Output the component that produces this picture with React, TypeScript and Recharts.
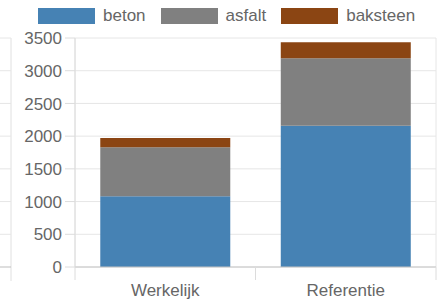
import { BarChart, Bar, XAxis, YAxis, CartesianGrid, Legend } from 'recharts'

const categories = ['Werkelijk', 'Referentie']
const beton = [1080, 2160]
const asfalt = [750, 1030]
const baksteen = [140, 245]
const yTicks = [0, 500, 1000, 1500, 2000, 2500, 3000, 3500]
const gridTicks = [0, 1, 2]

const series = [
  { key: 'beton', color: '#4682b4' },
  { key: 'asfalt', color: '#808080' },
  { key: 'baksteen', color: '#8b4513' },
]

const data = categories.map((name, i) => ({
  name,
  beton: beton[i],
  asfalt: asfalt[i],
  baksteen: baksteen[i],
}))

const font = '"Liberation Sans", Arial, Helvetica, sans-serif'
const textColor = '#666'

function YTick(props: any) {
  const { x, y, payload } = props
  return (
    <g>
      <line x1={0} x2={11} y1={y} y2={y} stroke={payload.value === 0 ? '#bdbdbd' : '#e6e6e6'} />
      <text x={x} y={y} dy="0.36em" textAnchor="end" fill={textColor} fontSize={17} fontFamily={font}>
        {payload.value}
      </text>
    </g>
  )
}

function XTick(props: any) {
  const { x, y, payload, index } = props
  const half = payload.offset || 90
  return (
    <g>
      <line x1={x - half} x2={x - half} y1={y} y2={y + 13} stroke="#dcdcdc" />
      {index === categories.length - 1 && (
        <line x1={x + half} x2={x + half} y1={y} y2={y + 13} stroke="#dcdcdc" />
      )}
      <text x={x} y={y + 29} textAnchor="middle" fill={textColor} fontSize={17} fontFamily={font}>
        {payload.value}
      </text>
    </g>
  )
}

function LegendContent() {
  return (
    <div style={{ height: 38, whiteSpace: 'nowrap', paddingTop: 8, boxSizing: 'border-box' }}>
      {series.map((s, i) => (
        <span
          key={s.key}
          style={{ display: 'inline-block', height: 16, marginRight: i < series.length - 1 ? 15 : 0, verticalAlign: 'top' }}
        >
          <span style={{ display: 'inline-block', width: 57, height: 16, background: s.color, marginRight: 8, verticalAlign: 'top' }} />
          <span style={{ display: 'inline-block', fontSize: 17, lineHeight: '16px', color: textColor, fontFamily: font, verticalAlign: 'top' }}>
            {s.key}
          </span>
        </span>
      ))}
    </div>
  )
}

export default function App() {
  return (
    <div style={{ position: 'absolute', left: 0, top: 0, width: 437, height: 303, background: '#fff' }}>
      <BarChart
        width={437}
        height={303}
        data={data}
        margin={{ top: 0, right: 1, bottom: 0, left: 0 }}
        barCategoryGap="14%"
      >
        <XAxis xAxisId="grid" type="number" domain={[0, 2]} ticks={gridTicks} hide />
        <CartesianGrid xAxisId="grid" stroke="#e6e6e6" />
        <XAxis
          dataKey="name"
          height={36}
          tickSize={0}
          tickMargin={0}
          axisLine={{ stroke: '#c4c4c4' }}
          tick={<XTick />}
          interval={0}
        />
        <YAxis
          width={75}
          domain={[0, 3500]}
          ticks={yTicks}
          tickSize={10}
          tickMargin={3}
          axisLine={{ stroke: '#dcdcdc' }}
          tickLine={{ stroke: '#dcdcdc' }}
          tick={<YTick />}
          interval={0}
          label={({ viewBox }: any) => (
            <line
              x1={viewBox.x + 11}
              x2={viewBox.x + 11}
              y1={viewBox.y}
              y2={viewBox.y + viewBox.height + 14}
              stroke="#e0e0e0"
            />
          )}
        />
        <Legend
          verticalAlign="top"
          align="left"
          wrapperStyle={{ top: 0, left: 38, width: 'auto' }}
          content={<LegendContent />}
        />
        {series.map((s) => (
          <Bar key={s.key} dataKey={s.key} stackId="a" fill={s.color} isAnimationActive={false} />
        ))}
      </BarChart>
    </div>
  )
}
